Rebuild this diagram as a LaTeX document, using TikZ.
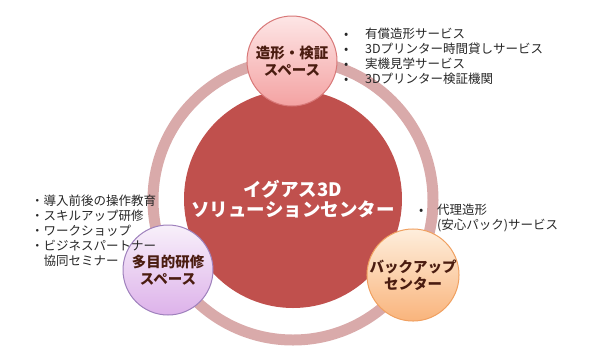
\documentclass[tikz,border=0pt]{standalone}
\usepackage{fontspec}
\setmainfont{Noto Sans CJK JP}
\definecolor{cred}{HTML}{C0504D}
\definecolor{ringc}{HTML}{D9AAAA}
\definecolor{ttl}{HTML}{4A1C10}
\definecolor{txt}{HTML}{262626}
\definecolor{pinkT}{HTML}{FDE6E6}
\definecolor{pinkB}{HTML}{F4A2A2}
\definecolor{pinkD}{HTML}{D87878}
\definecolor{purT}{HTML}{F8F0FA}
\definecolor{purB}{HTML}{DDB2EA}
\definecolor{purD}{HTML}{9E80BC}
\definecolor{orT}{HTML}{FEEEDC}
\definecolor{orB}{HTML}{F9B47C}
\definecolor{orD}{HTML}{F0A060}
\begin{document}
\begin{tikzpicture}[x=1pt,y=-1pt,
  bub/.style={circle, minimum size=90pt, inner sep=0pt, line width=1pt, align=center,
    font=\fontsize{14.5}{17}\selectfont\bfseries, text=ttl},
  lst/.style={anchor=north west, align=left, inner sep=0pt,
    font=\fontsize{12.5}{15}\selectfont, text=txt}]
\useasboundingbox (0,0) rectangle (600,360);
\node[circle, draw=ringc, line width=11pt, minimum size=280pt, inner sep=0pt] (ring) at (293,200) {};
\node[circle, fill=cred, minimum size=218pt, inner sep=0pt, text=white,
  font=\fontsize{18.5}{20}\selectfont\bfseries, align=center] (center) at (293,199)
  {イグアス3D\\ソリューションセンター};
\node[bub, draw=pinkD, top color=pinkT, bottom color=pinkB] (top) at (292,61) {造形・検証\\スペース};
\node[bub, draw=purD, top color=purT, bottom color=purB] (bl) at (168,270) {多目的研修\\スペース};
\node[bub, draw=orD, top color=orT, bottom color=orB] (br) at (413,275) {バックアップ\\センター};
\node[lst] (ltop) at (344,28) {\makebox[21pt][l]{•}有償造形サービス\\
  \makebox[21pt][l]{•}3Dプリンター時間貸しサービス\\
  \makebox[21pt][l]{•}実機見学サービス\\
  \makebox[21pt][l]{•}3Dプリンター検証機関};
\node[lst] (lleft) at (31,195) {・導入前後の操作教育\\
  ・スキルアップ研修\\
  ・ワークショップ\\
  ・ビジネスパートナー\\
  \hphantom{・}協同セミナー};
\node[lst] (lright) at (419,204) {\makebox[18pt][l]{•}代理造形\\
  \hphantom{\makebox[18pt][l]{•}}(安心パック)サービス};
\end{tikzpicture}
\end{document}
